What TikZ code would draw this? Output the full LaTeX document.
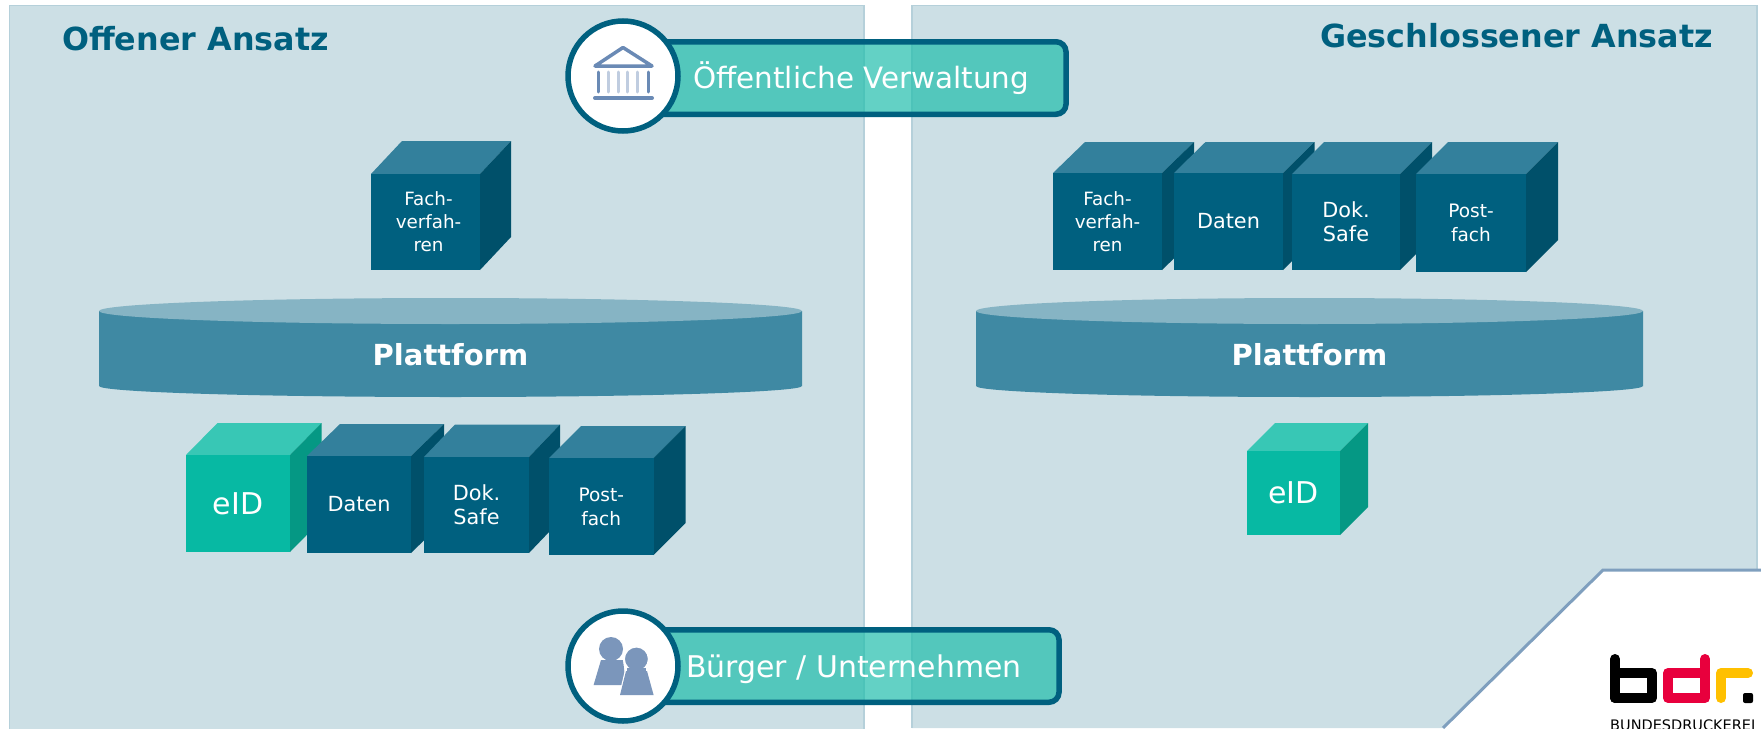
\documentclass[tikz,border=0pt]{standalone}
\usepackage{fontspec}
\setmainfont{DejaVu Sans}
\definecolor{panel}{HTML}{CCDFE5}
\definecolor{paneledge}{HTML}{B5D0DA}
\definecolor{cutedge}{HTML}{7F9FBE}
\definecolor{petrol}{HTML}{00607F}
\definecolor{petroltop}{HTML}{33809C}
\definecolor{petrolside}{HTML}{00506A}
\definecolor{mint}{HTML}{07B9A3}
\definecolor{minttop}{HTML}{38C7B5}
\definecolor{mintside}{HTML}{059884}
\definecolor{drum}{HTML}{3F89A3}
\definecolor{drumtop}{HTML}{86B4C4}
\definecolor{banner}{HTML}{21BEAC}
\definecolor{iconblue}{HTML}{6A8AB5}
\definecolor{iconlight}{HTML}{C0CDE0}
\definecolor{people}{HTML}{7B96BB}
\definecolor{bdrred}{HTML}{E8003D}
\definecolor{bdryellow}{HTML}{FFC000}
\tikzset{
  x=1pt,y=-1pt,
  panelbox/.style={fill=panel,draw=paneledge,line width=1.5pt},
  cubeface/.style={inner sep=0pt,outer sep=0pt,text=white,align=center},
  titletext/.style={inner sep=0pt,text=petrol,font=\bfseries\fontsize{31.8}{36}\selectfont},
  platlabel/.style={inner sep=0pt,text=white,font=\bfseries\fontsize{29}{34}\selectfont},
  bannerbox/.style={fill=banner,fill opacity=.7,draw=petrol,draw opacity=1,line width=5.5pt,rounded corners=10pt},
  bannertext/.style={inner sep=0pt,text=white,font=\fontsize{29.4}{34}\selectfont},
  roundel/.style={circle,inner sep=0pt,minimum size=110pt,fill=white,draw=petrol,line width=5.5pt},
  colhard/.style={draw=iconblue,line width=3pt,line cap=round},
  collight/.style={draw=iconlight,line width=3pt,line cap=round},
  person/.style={fill=people,draw=none},
}
% name x0 x1 y0 y1 xright ytop size leading text front top side
\newcommand{\boxcube}[1]{\boxcubeA{#1}}
\newcommand{\boxcubeA}[9]{%
  \def\cuN{#1}\def\cuXa{#2}\def\cuXb{#3}\def\cuYa{#4}\def\cuYb{#5}\def\cuXr{#6}\def\cuYt{#7}\def\cuS{#8}\def\cuL{#9}\boxcubeB}
\newcommand{\boxcubeB}[4]{%
  \pgfmathsetmacro{\cuDx}{\cuXr-\cuXb}
  \fill[#3] (\cuXa,\cuYa) -- ({\cuXa+\cuDx},\cuYt) -- (\cuXr,\cuYt) -- (\cuXb,\cuYa) -- cycle;
  \fill[#4] (\cuXb,\cuYa) -- (\cuXr,\cuYt) -- ({\cuXr},{\cuYb-(\cuYa-\cuYt)}) -- (\cuXb,\cuYb) -- cycle;
  \node[cubeface,fill=#2,minimum width={(\cuXb-\cuXa)*1pt},minimum height={(\cuYb-\cuYa)*1pt},font=\fontsize{\cuS}{\cuL}\selectfont]
    (\cuN) at ({(\cuXa+\cuXb)/2},{(\cuYa+\cuYb)/2}) {#1};}
\begin{document}
\begin{tikzpicture}
\useasboundingbox (0,0) rectangle (1761,728);
% panels
\begin{scope}
\clip (0,0) rectangle (1761,728);
\path[panelbox] (9.5,5.5) rectangle (864,740);
\path[fill=panel] (912,5) -- (1757,5) -- (1757,570) -- (1603,570) -- (1443,728) -- (912,728) -- cycle;
\draw[paneledge,line width=1.5pt] (912,728) -- (912,5.5) -- (1757,5.5) -- (1757,570);
\draw[cutedge,line width=3pt] (1443,728) -- (1603,570) -- (1761,570);
\end{scope}
% titles
\node[titletext,anchor=west] (titleL) at (62,39) {Offener Ansatz};
\node[titletext,anchor=east] (titleR) at (1713,36) {Geschlossener Ansatz};
% cubes upper
\boxcube{cFachL}{371}{480}{174}{270}{511}{141}{18.3}{23}{}{petrol}{petroltop}{petrolside}
\node[cubeface,font=\fontsize{18.3}{23}\selectfont] (cFachLtext) at (428.5,222) {Fach-\\verfah-\\ren};
\boxcube{cFachR}{1053}{1162}{173}{270}{1194}{142}{18.3}{23}{Fach-\\verfah-\\ren}{petrol}{petroltop}{petrolside}
\boxcube{cDatenR}{1174}{1283}{173}{270}{1314.5}{142}{20.8}{24}{Daten}{petrol}{petroltop}{petrolside}
\boxcube{cDokR}{1292}{1400}{174}{270}{1432}{142}{20.8}{24}{Dok.\\Safe}{petrol}{petroltop}{petrolside}
\boxcube{cPostR}{1416}{1526}{174}{272}{1558}{142}{18.5}{24}{Post-\\fach}{petrol}{petroltop}{petrolside}
% platforms
\fill[drum] (99,311) -- (99,386) arc[start angle=180,end angle=0,x radius=351.5,y radius=11] -- (802,311) -- cycle;
\fill[drumtop] (450.5,311) ellipse[x radius=351.5,y radius=13];
\node[platlabel] (platL) at (450.5,355) {Plattform};
\fill[drum] (976,311) -- (976,386) arc[start angle=180,end angle=0,x radius=333.5,y radius=11] -- (1643,311) -- cycle;
\fill[drumtop] (1309.5,311) ellipse[x radius=333.5,y radius=13];
\node[platlabel] (platR) at (1309.5,355) {Plattform};
% cubes lower
\boxcube{cEidL}{186}{290}{455}{552}{321.5}{423}{30}{34}{eID}{mint}{minttop}{mintside}
\boxcube{cDatenL}{307}{411}{456}{553}{444}{424}{20.8}{24}{Daten}{petrol}{petroltop}{petrolside}
\boxcube{cDokL}{424}{529}{457}{553}{560}{424.5}{20.8}{24}{Dok.\\Safe}{petrol}{petroltop}{petrolside}
\boxcube{cPostL}{549}{653.5}{458}{555}{685.5}{426}{18.5}{24}{Post-\\fach}{petrol}{petroltop}{petrolside}
\boxcube{cEidR}{1247}{1340}{451}{535}{1368}{423}{30}{34}{eID}{mint}{minttop}{mintside}
% banners
\path[bannerbox] (623,41.75) rectangle (1066,114.25);
\node[bannertext,anchor=west] (oevLabel) at (693,78) {Öffentliche Verwaltung};
\node[roundel] (oevCircle) at (623,76) {};
\path[bannerbox] (623,629.75) rectangle (1059,702.25);
\node[bannertext,anchor=west,font=\fontsize{29.9}{34}\selectfont] (buergerLabel) at (686,669) {Bürger / Unternehmen};
\node[roundel] (buergerCircle) at (623,666) {};
% bank icon
\draw[iconblue,line width=3.5pt,line cap=round,line join=round] (595,66) -- (623,47.5) -- (652,66) -- cycle;
\draw[colhard] (598,72) -- (598,92);
\draw[collight] (608.6,72) -- (608.6,92);
\draw[collight] (618,72) -- (618,92);
\draw[collight] (627.5,72) -- (627.5,92);
\draw[collight] (637,72) -- (637,92);
\draw[colhard] (648,72) -- (648,92);
\draw[iconblue,line width=4pt,line cap=round] (595,98) -- (652,98);
% people icon
\fill[person] (611,649) circle[radius=12];
\fill[person] (601,660) -- (623,660) -- (626,685) -- (593.6,685) -- cycle;
\draw[white,line width=2pt,fill=people] (626,670) -- (647,670) -- (653.6,695) -- (620,695) -- cycle;
\draw[white,line width=2pt,fill=people] (636.4,659) circle[radius=12.5];
\fill[person] (627,668) rectangle (646,672);
\fill[person] (626,671) -- (647,671) -- (653.6,695) -- (620,695) -- cycle;
% logo
\draw[black,line width=10pt,line cap=round,line join=round] (1615,659) -- (1615,698);
\draw[black,line width=10pt,line cap=round,line join=round] (1615,673) -- (1652,673) -- (1652,698) -- (1615,698);
\draw[bdrred,line width=10pt,line join=round,line cap=round] (1705,659) -- (1705,698) -- (1668,698) -- (1668,673) -- (1705,673);
\draw[bdryellow,line width=10pt,line cap=round,line join=round] (1721,698) -- (1721,673) -- (1748,673);
\fill[black,rounded corners=2pt] (1743,693) rectangle (1753,703);
\begin{scope}
\clip (1600,710) rectangle (1761,728);
\node[inner sep=0pt,anchor=north west,text=black,font=\fontsize{14.5}{16}\selectfont] (logotext) at (1610,720) {BUNDESDRUCKEREI};
\end{scope}
\end{tikzpicture}
\end{document}
